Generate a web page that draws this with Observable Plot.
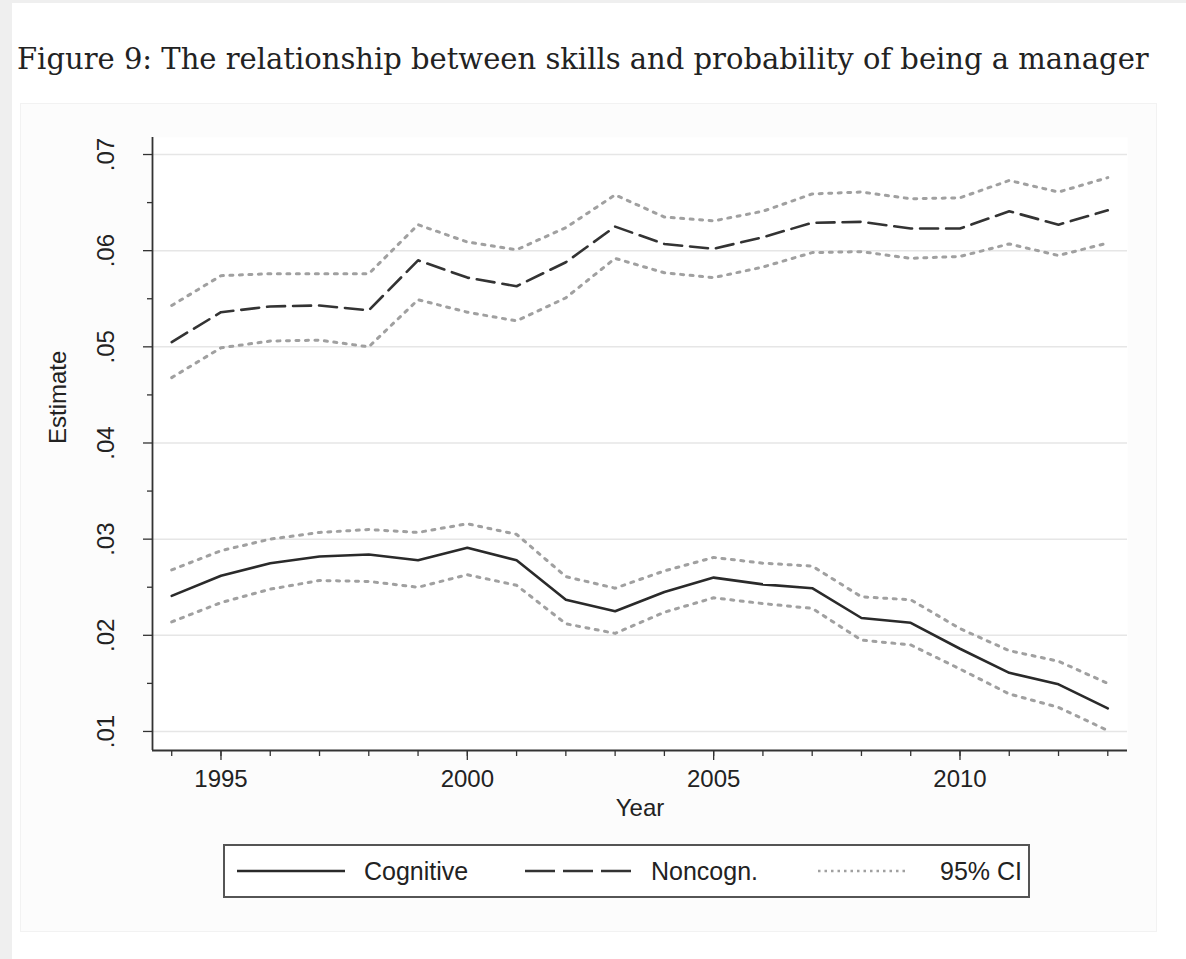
<!DOCTYPE html>
<html><head><meta charset="utf-8">
<script src="https://cdn.jsdelivr.net/npm/d3@7"></script>
<script src="https://cdn.jsdelivr.net/npm/@observablehq/plot@0.6"></script>
<style>
body{margin:0;background:#efefef;width:1186px;height:959px;overflow:hidden;position:relative;font-family:"Liberation Sans",Arial,sans-serif;color:#222}
#page{position:absolute;left:12px;top:3px;width:1174px;height:956px;background:#fff}
#panel{position:absolute;left:20px;top:103px;width:1135px;height:827px;background:#fcfcfc;border:1px solid #f2f2f2}
#title{position:absolute;left:17px;top:42px;font-family:"DejaVu Serif",serif;font-size:29px;color:#222;white-space:nowrap}
#chart{position:absolute;left:0;top:100px}
#legend{position:absolute;left:223px;top:844px;width:803px;height:50px;border:2px solid #555;background:#fff}
.li{position:absolute;top:0;height:50px;display:flex;align-items:center;font-size:25px;white-space:nowrap}
.li svg{display:block}
</style></head>
<body>
<div id="page"></div>
<div id="panel"></div>
<div id="title">Figure 9: The relationship between skills and probability of being a manager</div>
<div id="chart"></div>
<div id="legend">
  <div class="li" style="left:12px"><svg width="108" height="10"><line x1="0" y1="5" x2="108" y2="5" stroke="#2a2a2a" stroke-width="2.5"/></svg><span style="margin-left:19px">Cognitive</span></div>
  <div class="li" style="left:300px"><svg width="108" height="10"><line x1="0" y1="5" x2="108" y2="5" stroke="#333" stroke-width="2.5" stroke-dasharray="30,8"/></svg><span style="margin-left:18px">Noncogn.</span></div>
  <div class="li" style="left:593px"><svg width="90" height="10"><line x1="0" y1="5" x2="90" y2="5" stroke="#a0a0a0" stroke-width="2.5" stroke-dasharray="2.5,4"/></svg><span style="margin-left:32px">95% CI</span></div>
</div>
<script>
const years = [1994,1995,1996,1997,1998,1999,2000,2001,2002,2003,2004,2005,2006,2007,2008,2009,2010,2011,2012,2013];
const cognitive   = [0.0241,0.0262,0.0275,0.0282,0.0284,0.0278,0.0291,0.0278,0.0237,0.0225,0.0245,0.0260,0.0253,0.0249,0.0218,0.0213,0.0186,0.0161,0.0149,0.0124];
const cognitiveLo = [0.0214,0.0234,0.0248,0.0257,0.0256,0.0250,0.0263,0.0252,0.0212,0.0202,0.0224,0.0239,0.0233,0.0228,0.0195,0.0190,0.0165,0.0139,0.0125,0.0101];
const cognitiveHi = [0.0268,0.0288,0.0300,0.0307,0.0310,0.0307,0.0316,0.0305,0.0261,0.0249,0.0267,0.0281,0.0275,0.0272,0.0240,0.0237,0.0207,0.0184,0.0173,0.0150];
const noncogn     = [0.0505,0.0536,0.0542,0.0543,0.0538,0.0590,0.0572,0.0563,0.0588,0.0625,0.0607,0.0602,0.0614,0.0629,0.0630,0.0623,0.0623,0.0641,0.0627,0.0642];
const noncognLo   = [0.0468,0.0499,0.0506,0.0507,0.0500,0.0549,0.0536,0.0527,0.0551,0.0592,0.0577,0.0572,0.0583,0.0598,0.0599,0.0592,0.0594,0.0607,0.0595,0.0608];
const noncognHi   = [0.0543,0.0574,0.0576,0.0576,0.0576,0.0627,0.0609,0.0601,0.0624,0.0658,0.0635,0.0631,0.0641,0.0659,0.0661,0.0654,0.0655,0.0673,0.0661,0.0676];
const xMajor = [1995,2000,2005,2010];
const yTicks = [0.01,0.02,0.03,0.04,0.05,0.06,0.07];
const yMinor = [0.015,0.025,0.035,0.045,0.055,0.065];
const xDomain = [1993.61, 2013.4];
const yDomain = [0.00802, 0.07177];

const seriesDefs = [
  ["cognitive", cognitive], ["cognitiveLo", cognitiveLo], ["cognitiveHi", cognitiveHi],
  ["noncogn", noncogn], ["noncognLo", noncognLo], ["noncognHi", noncognHi]
];
const rows = seriesDefs.flatMap(([s, vals]) => years.map((year, i) => ({series: s, year, value: vals[i]})));
const pick = (...names) => rows.filter(r => names.includes(r.series));
const fmt = d => d.toFixed(2).replace(/^0/, "");

const chart = Plot.plot({
  width: 1186, height: 730,
  marginLeft: 152, marginRight: 59, marginTop: 37, marginBottom: 80,
  style: {background: "transparent", fontFamily: "'Liberation Sans', Arial, sans-serif", color: "#222", overflow: "visible"},
  x: {domain: xDomain, label: null},
  y: {domain: yDomain, label: null},
  marks: [
    Plot.frame({fill: "#fff", stroke: "none"}),
    Plot.gridY(yTicks, {stroke: "#e6e6e6", strokeOpacity: 1, strokeWidth: 1.5}),
    Plot.axisY({ticks: yMinor, tickSize: 5, tickFormat: () => "", stroke: "#333", strokeWidth: 1.3, label: null}),
    Plot.axisY({ticks: yTicks, tickSize: 9, tickFormat: fmt, tickRotate: -90, tickPadding: 30, fontSize: 24, stroke: "#333", strokeWidth: 1.3, label: null}),
    Plot.axisX({ticks: years, tickSize: 6, tickFormat: () => "", stroke: "#333", strokeWidth: 1.3, label: null}),
    Plot.axisX({ticks: xMajor, tickSize: 10, tickFormat: d => String(d), tickPadding: 9, fontSize: 24, stroke: "#333", strokeWidth: 1.3, label: null}),
    Plot.ruleX([xDomain[0]], {stroke: "#333", strokeWidth: 1.8}),
    Plot.ruleY([yDomain[0]], {stroke: "#333", strokeWidth: 1.8}),
    Plot.text(["Estimate"], {frameAnchor: "left", rotate: -90, dx: -94, fontSize: 24, fill: "#222"}),
    Plot.text(["Year"], {frameAnchor: "bottom", dy: 65, fontSize: 24, fill: "#222"}),
    Plot.line(pick("cognitiveLo", "cognitiveHi", "noncognLo", "noncognHi"), {x: "year", y: "value", z: "series", stroke: "#a0a0a0", strokeWidth: 3, strokeDasharray: "3,6.5"}),
    Plot.line(pick("noncogn"), {x: "year", y: "value", stroke: "#333", strokeWidth: 2.6, strokeDasharray: "18,8"}),
    Plot.line(pick("cognitive"), {x: "year", y: "value", stroke: "#2a2a2a", strokeWidth: 2.6})
  ]
});
document.getElementById("chart").append(chart);
</script>
</body></html>
